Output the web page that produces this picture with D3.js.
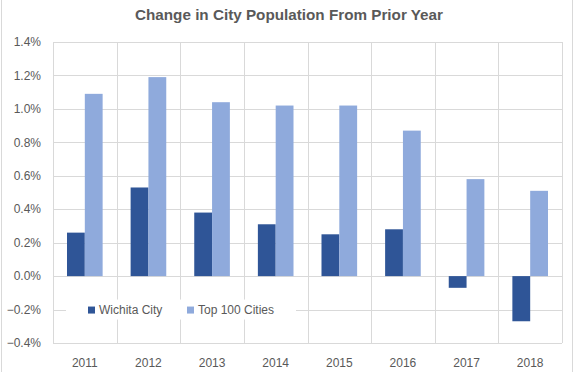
<!DOCTYPE html>
<html>
<head>
<meta charset="utf-8">
<script src="https://cdn.jsdelivr.net/npm/d3@7"></script>
<style>
  body { margin: 0; background: #fff; }
  text { font-family: "Liberation Sans", Arial, sans-serif; }
</style>
</head>
<body>
<div id="chart"></div>
<script>
const years = ["2011", "2012", "2013", "2014", "2015", "2016", "2017", "2018"];
const wichita = [0.26, 0.53, 0.38, 0.31, 0.25, 0.28, -0.07, -0.27];
const top100 = [1.09, 1.19, 1.04, 1.02, 1.02, 0.87, 0.58, 0.51];
const seriesNames = ["Wichita City", "Top 100 Cities"];
const yTicks = [-0.4, -0.2, 0, 0.2, 0.4, 0.6, 0.8, 1.0, 1.2, 1.4];

const colors = ["#2F5597", "#8FAADC"];

const svg = d3.select("#chart")
  .append("svg")
  .attr("width", 576)
  .attr("height", 372);

// chart border
svg.append("rect")
  .attr("x", 1.5).attr("y", -2)
  .attr("width", 571).attr("height", 380)
  .attr("fill", "none")
  .attr("stroke", "#d9d9d9");

const margin = { top: 42, right: 14, bottom: 29, left: 53 };
const width = 576 - margin.left - margin.right;
const height = 372 - margin.top - margin.bottom;

const g = svg.append("g")
  .attr("transform", `translate(${margin.left},${margin.top})`);

const x = d3.scaleBand()
  .domain(years)
  .range([0, width])
  .paddingInner(0.44)
  .paddingOuter(0.22);

const x1 = d3.scaleBand()
  .domain([0, 1])
  .range([0, x.bandwidth()]);

const y = d3.scaleLinear()
  .domain([-0.4, 1.4])
  .range([height, 0]);

// horizontal gridlines
g.append("g")
  .selectAll("line")
  .data(yTicks)
  .join("line")
  .attr("x1", 0).attr("x2", width)
  .attr("y1", d => Math.round(y(d)) + 0.5)
  .attr("y2", d => Math.round(y(d)) + 0.5)
  .attr("stroke", "#d9d9d9");

// vertical gridlines at category boundaries
const step = x.step();
g.append("g")
  .selectAll("line")
  .data(d3.range(years.length + 1))
  .join("line")
  .attr("x1", i => Math.round(i * step) + 0.5)
  .attr("x2", i => Math.round(i * step) + 0.5)
  .attr("y1", 0).attr("y2", height)
  .attr("stroke", "#d9d9d9");

// y labels
g.append("g")
  .selectAll("text")
  .data(yTicks)
  .join("text")
  .attr("x", -12)
  .attr("y", d => y(d))
  .attr("dy", "0.35em")
  .attr("text-anchor", "end")
  .attr("font-size", 12)
  .attr("fill", "#595959")
  .text(d => d3.format(".1%")(d / 100));

// x labels
g.append("g")
  .selectAll("text")
  .data(years)
  .join("text")
  .attr("x", d => x(d) + x.bandwidth() / 2)
  .attr("y", height + 24)
  .attr("text-anchor", "middle")
  .attr("font-size", 12)
  .attr("fill", "#595959")
  .text(d => d);

// legend background (covers gridline)
const legend = g.append("g").attr("transform", `translate(0,${y(-0.2)})`);
legend.append("rect")
  .attr("x", 13).attr("y", -10)
  .attr("width", 230).attr("height", 20)
  .attr("fill", "#fff");

// bars
const series = [wichita, top100];
series.forEach((vals, s) => {
  g.append("g")
    .selectAll("rect")
    .data(years)
    .join("rect")
    .attr("x", (d, i) => x(d) + x1(s))
    .attr("width", x1.bandwidth())
    .attr("y", (d, i) => y(Math.max(0, vals[i])))
    .attr("height", (d, i) => Math.abs(y(vals[i]) - y(0)))
    .attr("fill", colors[s]);
});

// legend items
const legendX = [35, 134];
seriesNames.forEach((name, s) => {
  legend.append("rect")
    .attr("x", legendX[s]).attr("y", -3)
    .attr("width", 7).attr("height", 7)
    .attr("fill", colors[s]);
  legend.append("text")
    .attr("x", legendX[s] + 11)
    .attr("y", 0)
    .attr("dy", "0.35em")
    .attr("font-size", 12)
    .attr("fill", "#595959")
    .text(name);
});

// title
svg.append("text")
  .attr("x", 289)
  .attr("y", 20)
  .attr("text-anchor", "middle")
  .attr("font-size", 14)
  .attr("font-weight", "bold")
  .attr("fill", "#595959")
  .attr("textLength", 308)
  .attr("lengthAdjust", "spacingAndGlyphs")
  .text("Change in City Population From Prior Year");
</script>
</body>
</html>
